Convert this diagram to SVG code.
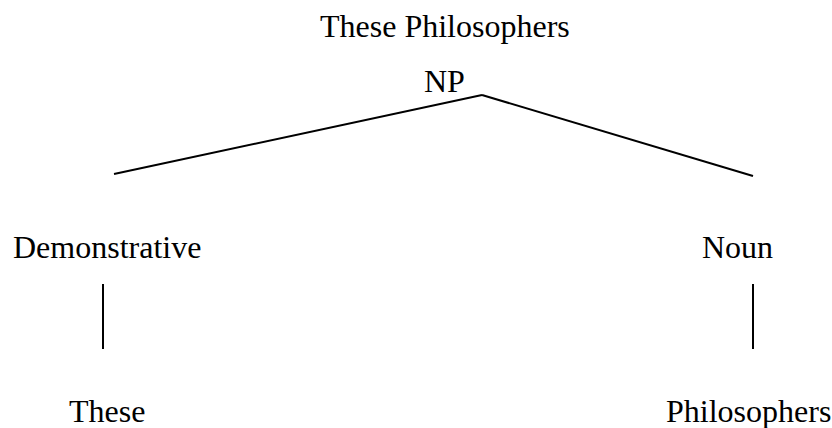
<svg xmlns="http://www.w3.org/2000/svg" width="832" height="428" viewBox="0 0 832 428">
<style>
text{font-family:"Liberation Serif","Times New Roman",serif;font-size:32px;fill:#000}
.c line{stroke:#000;stroke-width:2;stroke-linecap:butt}
</style>
<rect width="832" height="428" fill="#fff"/>
<g id="title"><text x="320" y="37">These Philosophers</text></g>
<g id="np"><text x="424" y="92">NP</text></g>
<g id="demonstrative"><text x="13" y="258">Demonstrative</text></g>
<g id="noun"><text x="702" y="258">Noun</text></g>
<g id="these"><text x="69" y="422">These</text></g>
<g id="philosophers"><text x="666" y="422">Philosophers</text></g>
<g class="c" id="connectors">
<line x1="482" y1="95" x2="114" y2="174"/>
<line x1="482" y1="95" x2="753" y2="176"/>
<line x1="103" y1="284" x2="103" y2="349"/>
<line x1="753" y1="284" x2="753" y2="349"/>
</g>
</svg>
